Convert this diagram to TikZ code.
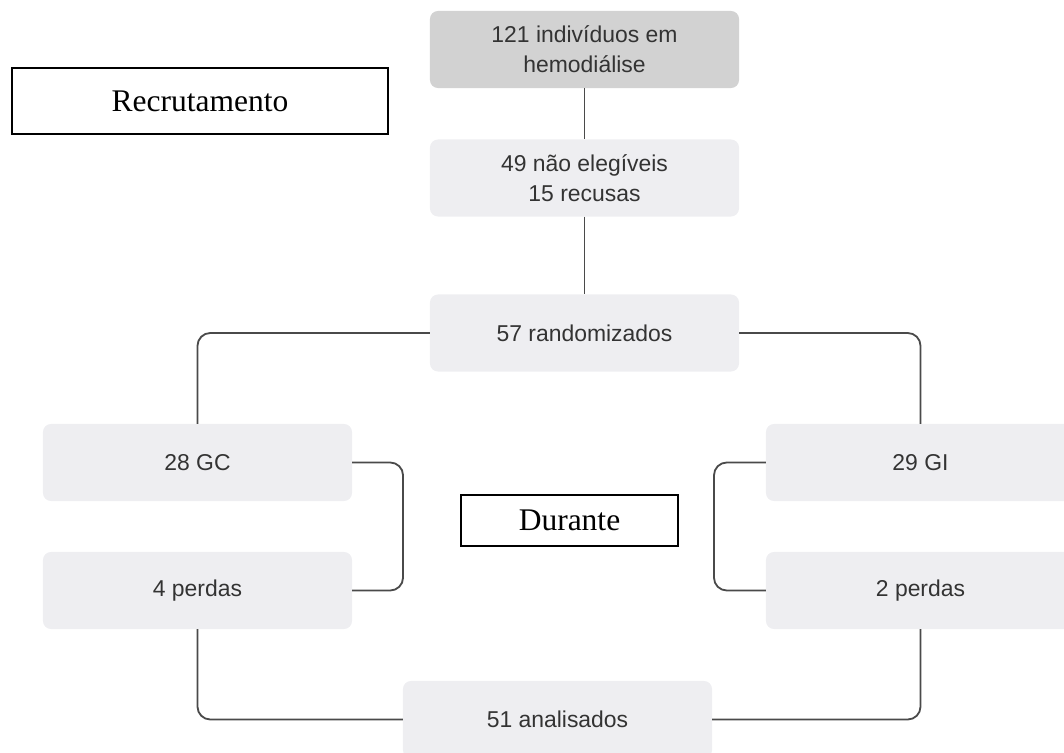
\documentclass[tikz,border=0pt]{standalone}
\usepackage{fontspec}
\setmainfont{Liberation Serif}
\newfontfamily\boxfont{Liberation Sans}
\usepackage{xcolor}
\usepackage{tikz}
\usetikzlibrary{positioning}
\usetikzlibrary{calc}
\definecolor{boxgray}{HTML}{EEEEF1}
\definecolor{topgray}{HTML}{D2D2D2}
\definecolor{txtgray}{HTML}{333333}
\definecolor{linegray}{HTML}{4A4A4A}

\begin{document}
\begin{tikzpicture}[x=0.025cm,y=-0.025cm,
  flowbox/.style={rectangle,rounded corners=0.2cm,fill=boxgray,minimum width=7.725cm,minimum height=1.925cm,inner sep=0pt,outer sep=0pt,align=center,text=txtgray,font=\boxfont\fontsize{16.3}{21.3}\selectfont},
  stagebox/.style={rectangle,draw=black,line width=1.3pt,fill=white,inner sep=0pt,outer sep=0pt,font=\fontsize{22.4}{26}\selectfont},
  link/.style={draw=linegray,line width=1.3pt,rounded corners=0.32cm}]
  \useasboundingbox (0,0) rectangle (1064,753);
  \clip (0,0) rectangle (1064,753);
  \node[flowbox,fill=topgray] (total) at (584.5,49.5) {121 indivíduos em\\hemodiálise};
  \node[flowbox] (excl) at (584.5,178) {49 não elegíveis\\15 recusas};
  \node[flowbox] (rand) at (584.5,333) {57 randomizados};
  \node[flowbox] (gc) at (197.5,462.5) {28 GC};
  \node[flowbox] (gcloss) at (197.5,590.5) {4 perdas};
  \node[flowbox] (gi) at (920.5,462.5) {29 GI};
  \node[flowbox] (giloss) at (920.5,590.5) {2 perdas};
  \node[flowbox] (anal) at (557.5,719.5) {51 analisados};
  \node[stagebox,minimum width=9.4cm,minimum height=1.65cm] (recr) at (200,101) {Recrutamento};
  \node[stagebox,minimum width=5.425cm,minimum height=1.275cm] (durante) at (569.5,520.5) {Durante};
  \draw[link] (total.south) -- (excl.north);
  \draw[link] (excl.south) -- (rand.north);
  \draw[link] (rand.west) -| (gc.north);
  \draw[link] (rand.east) -| (gi.north);
  \draw[link] (gc.east) -- ++(51,0) |- (gcloss.east);
  \draw[link] (gi.west) -- ++(-52,0) |- (giloss.west);
  \draw[link] (gcloss.south) |- (anal.west);
  \draw[link] (giloss.south) |- (anal.east);
\end{tikzpicture}
\end{document}
